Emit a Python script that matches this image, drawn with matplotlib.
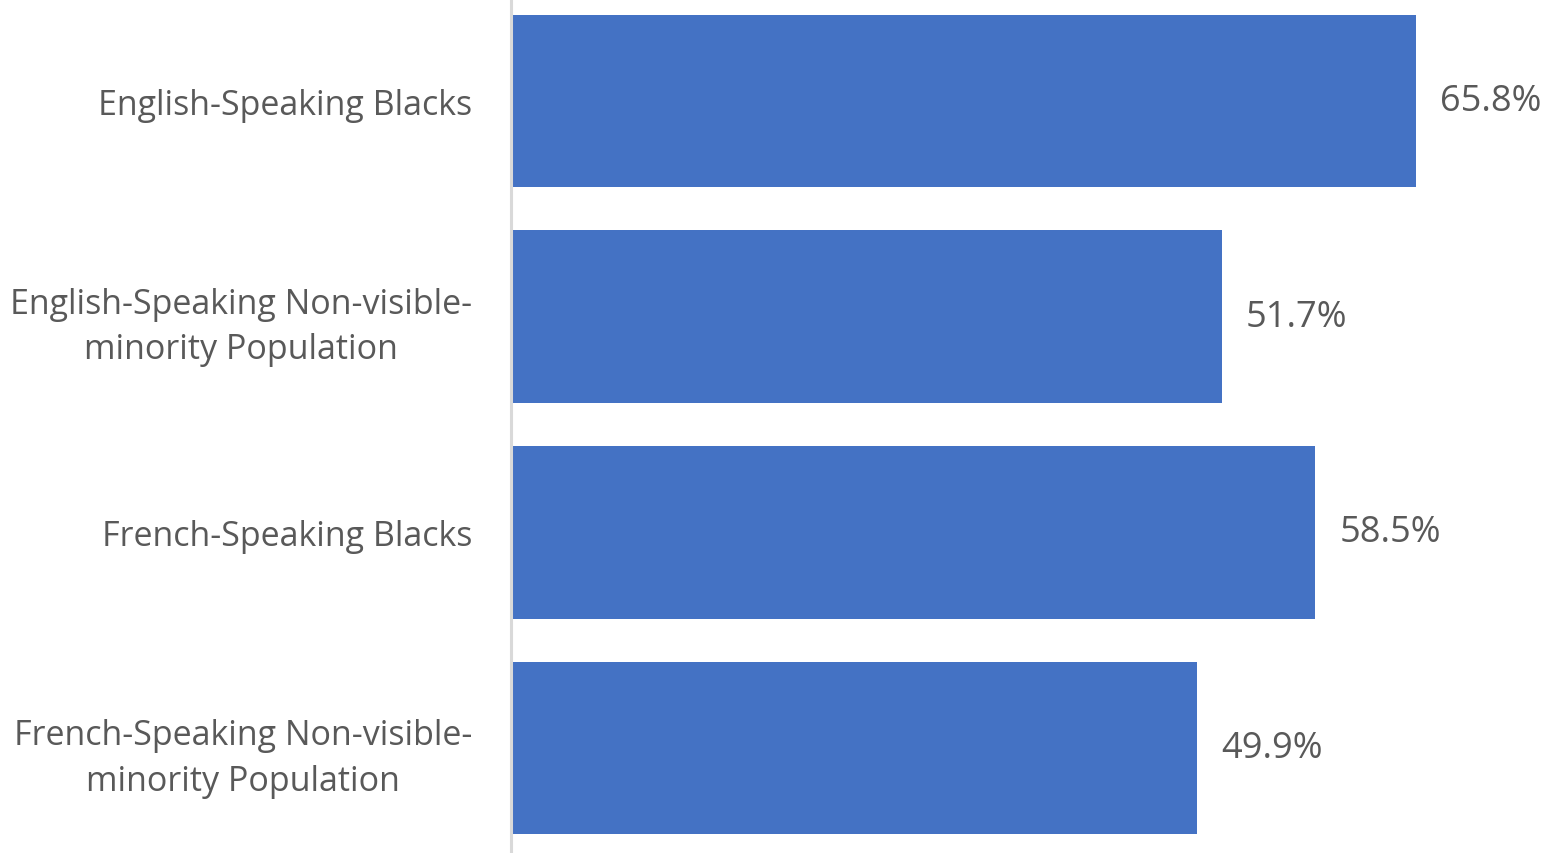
import matplotlib.pyplot as plt
import numpy as np

categories = ["English-Speaking Blacks",
              "English-Speaking Non-visible-\nminority Population",
              "French-Speaking Blacks",
              "French-Speaking Non-visible-\nminority Population"]
values = [65.8, 51.7, 58.5, 49.9]
value_labels = ["65.8%", "51.7%", "58.5%", "49.9%"]

plt.rcParams['font.family'] = ['Open Sans', 'DejaVu Sans']

fig = plt.figure(figsize=(15.45, 8.54), dpi=100)
ax = fig.add_axes([511 / 1545, 0, 1 - 511 / 1545, 1])

y = np.arange(len(categories))
ax.barh(y, values, height=0.8, color="#4472C4", zorder=2)

for yi, v, lab in zip(y, values, value_labels):
    ax.annotate(lab, (v, yi), xytext=(24, 0), textcoords="offset pixels",
                va="center", ha="left", fontsize=26, color="#595959")

ax.set_xlim(0, 75.2)
ax.set_ylim(3.486, -0.472)
ax.set_yticks(y)
ax.set_yticklabels(categories, fontsize=24.5, color="#595959", ha="right",
                   multialignment="center", linespacing=1.45)
ax.tick_params(axis="y", length=0, pad=28)
ax.set_xticks([])

for s in ["top", "right", "bottom"]:
    ax.spines[s].set_visible(False)
ax.spines["left"].set_color("#D9D9D9")
ax.spines["left"].set_linewidth(2.2)

fig.savefig("out.png", dpi=100)
